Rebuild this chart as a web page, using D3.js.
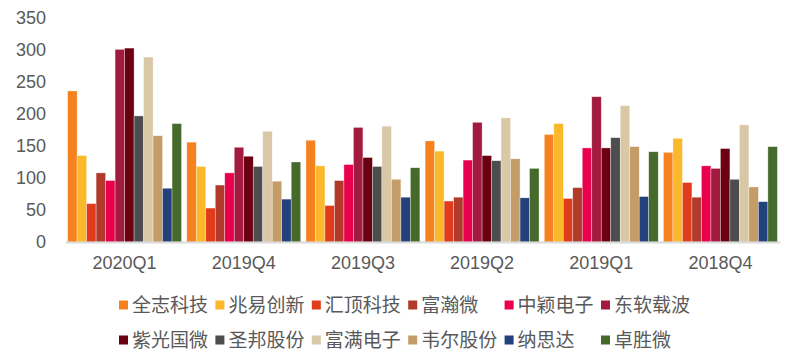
<!DOCTYPE html>
<html>
<head>
<meta charset="utf-8">
<script src="https://cdn.jsdelivr.net/npm/d3@7"></script>
<style>
  html, body { margin: 0; padding: 0; background: #fff; }
  svg { display: block; }
  text { font-family: "Liberation Sans", Arial, "Noto Sans CJK SC", sans-serif; fill: #595959; }
  .legend text { font-family: "Noto Sans CJK SC", sans-serif; }
</style>
</head>
<body>
<div id="chart"></div>
<script>
// Quarters along the x axis
const quarters = ['2020Q1', '2019Q4', '2019Q3', '2019Q2', '2019Q1', '2018Q4'];

// Companies (series), same order as bars within each group
const companies = ['全志科技', '兆易创新', '汇顶科技', '富瀚微', '中颖电子', '东软载波',
                   '紫光国微', '圣邦股份', '富满电子', '韦尔股份', '纳思达', '卓胜微'];

const colors = ['#F5821F', '#FBB82B', '#E03C1B', '#B23A2A', '#E8004F', '#A31A3F',
                '#6B0010', '#4D4D4F', '#D9C8A6', '#C49C68', '#23417A', '#456A2B'];

// One array per company, values per quarter
const quanzhi   = [236, 156, 159, 158, 168, 140];
const zhaoyi    = [135, 118, 119, 142, 185, 162];
const huiding   = [ 60,  53,  57,  64,  68,  93];
const fuhan     = [108,  89,  96,  70,  85,  70];
const zhongying = [ 96, 108, 121, 128, 147, 119];
const dongruan  = [301, 148, 179, 187, 227, 115];
const ziguang   = [303, 134, 132, 135, 147, 146];
const shengbang = [197, 118, 118, 127, 163,  98];
const fuman     = [289, 173, 181, 194, 213, 183];
const weier     = [166,  95,  98, 130, 149,  86];
const nasida    = [ 84,  67,  70,  69,  71,  63];
const zhuosheng = [185, 125, 116, 115, 141, 149];

const seriesValues = [quanzhi, zhaoyi, huiding, fuhan, zhongying, dongruan,
                      ziguang, shengbang, fuman, weier, nasida, zhuosheng];

const yTicks = [0, 50, 100, 150, 200, 250, 300, 350];

const width = 800, height = 355;
const margin = { top: 18, right: 20, bottom: 113, left: 65 };

const svg = d3.select('#chart').append('svg')
    .attr('width', width)
    .attr('height', height);

const x0 = d3.scaleBand()
    .domain(quarters)
    .range([margin.left, width - margin.right])
    .paddingInner(0.044)
    .paddingOuter(0.022);

const x1 = d3.scaleBand()
    .domain(companies)
    .range([0, x0.bandwidth()]);

const y = d3.scaleLinear()
    .domain([0, 350])
    .range([height - margin.bottom + 0.5 - 0.5, margin.top]);

// y axis labels only (no line, no ticks)
const yAxis = svg.append('g')
    .attr('transform', `translate(${margin.left - 19},0)`)
    .call(d3.axisLeft(y).tickValues(yTicks).tickSize(0).tickPadding(0));
yAxis.select('.domain').remove();
yAxis.selectAll('text')
    .attr('font-size', 18)
    .attr('fill', '#595959')
    .style('font-family', '"Liberation Sans", Arial, sans-serif');

// bars
const groups = svg.append('g').selectAll('g')
    .data(quarters)
    .join('g')
    .attr('transform', d => `translate(${x0(d)},0)`);

groups.selectAll('rect')
    .data((q, qi) => companies.map((c, ci) => ({ company: c, value: seriesValues[ci][qi], color: colors[ci] })))
    .join('rect')
    .attr('x', d => x1(d.company))
    .attr('y', d => y(d.value))
    .attr('width', x1.bandwidth())
    .attr('height', d => y(0) - y(d.value))
    .attr('fill', d => d.color)
    .attr('stroke', 'rgba(255,255,255,0.55)')
    .attr('stroke-width', 0.6);

// baseline + category labels
const xAxis = svg.append('g')
    .attr('transform', `translate(0,${y(0)})`)
    .call(d3.axisBottom(x0).tickSize(0).tickPadding(14));
xAxis.select('.domain')
    .attr('stroke', '#D9D9D9')
    .attr('stroke-width', 2);
xAxis.selectAll('text')
    .attr('font-size', 18)
    .attr('fill', '#595959')
    .style('font-family', '"Liberation Sans", Arial, sans-serif');

// legend: 2 rows x 6 columns
const legend = svg.append('g').attr('class', 'legend');
const legendX = 119, legendStep = 96.4;
const legendRows = [305, 340];

const item = legend.selectAll('g')
    .data(companies)
    .join('g')
    .attr('transform', (d, i) => `translate(${legendX + (i % 6) * legendStep},${legendRows[Math.floor(i / 6)]})`);

item.append('rect')
    .attr('x', 0)
    .attr('y', -4.5)
    .attr('width', 9)
    .attr('height', 9)
    .attr('fill', (d, i) => colors[i]);

item.append('text')
    .attr('x', 13)
    .attr('y', 0)
    .attr('dy', '0.35em')
    .attr('font-size', 19)
    .text(d => d);
</script>
</body>
</html>
